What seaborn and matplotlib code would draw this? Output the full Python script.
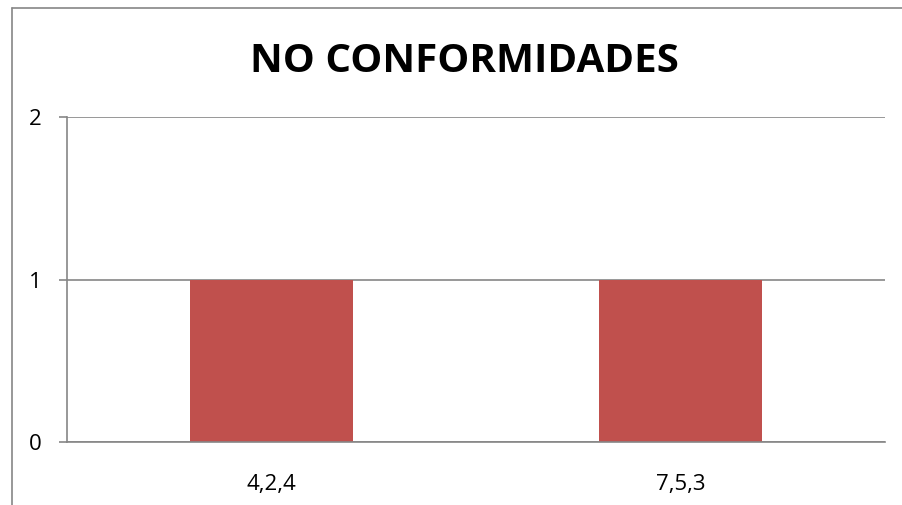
import matplotlib
matplotlib.use("Agg")
import matplotlib.pyplot as plt
import seaborn as sns
import pandas as pd
from matplotlib.lines import Line2D

categories = ["4,2,4", "7,5,3"]
values = [1, 1]
title = "NO CONFORMIDADES"
yticks = [0, 1, 2]

sns.set_theme(style="white")
plt.rcParams['font.family'] = ['Open Sans', 'DejaVu Sans']

df = pd.DataFrame({"cat": categories, "val": values})

W, H = 902, 505
fig = plt.figure(figsize=(W/100, H/100), dpi=100)
ax = fig.add_axes([67/W, 1-442/H, (885-67)/W, (442-117)/H])

sns.barplot(data=df, x="cat", y="val", color="#C0504D", width=0.4,
            saturation=1, ax=ax, edgecolor="none")

grid_c = "#868686"
ax.set_ylim(0, 2)
ax.set_xlim(-0.5, len(categories)-0.5)
ax.set_yticks(yticks)
ax.set_yticklabels([str(t) for t in yticks], fontsize=16, color="black")
ax.yaxis.grid(True, color=grid_c, linewidth=1.2)
ax.set_axisbelow(True)
ax.set_xlabel("")
ax.set_ylabel("")
ax.tick_params(axis="x", which="major", length=0, pad=23, labelsize=16, labelcolor="black")
ax.set_xticks([i - 0.5 for i in range(len(categories)+1)], minor=True)
ax.tick_params(axis="x", which="minor", length=6, width=1.2, color=grid_c, direction="out")
ax.tick_params(axis="y", length=6, width=1.2, color=grid_c, pad=12, left=True)
for s in ["top", "right"]:
    ax.spines[s].set_visible(False)
for s in ["left", "bottom"]:
    ax.spines[s].set_color(grid_c)
    ax.spines[s].set_linewidth(1.2)

fig.text(464/W, 1-62/H, title, ha="center", va="center",
         fontsize=29, fontweight="bold", color="black")

# outer chart frame (cropped)
fig.add_artist(Line2D([12/W, 12/W], [0, 1-8/H], transform=fig.transFigure,
                      color="#868686", linewidth=1.2))
fig.add_artist(Line2D([12/W, 1.01], [1-8/H, 1-8/H], transform=fig.transFigure,
                      color="#868686", linewidth=1.2))

fig.savefig("out.png", dpi=100, facecolor="white")
